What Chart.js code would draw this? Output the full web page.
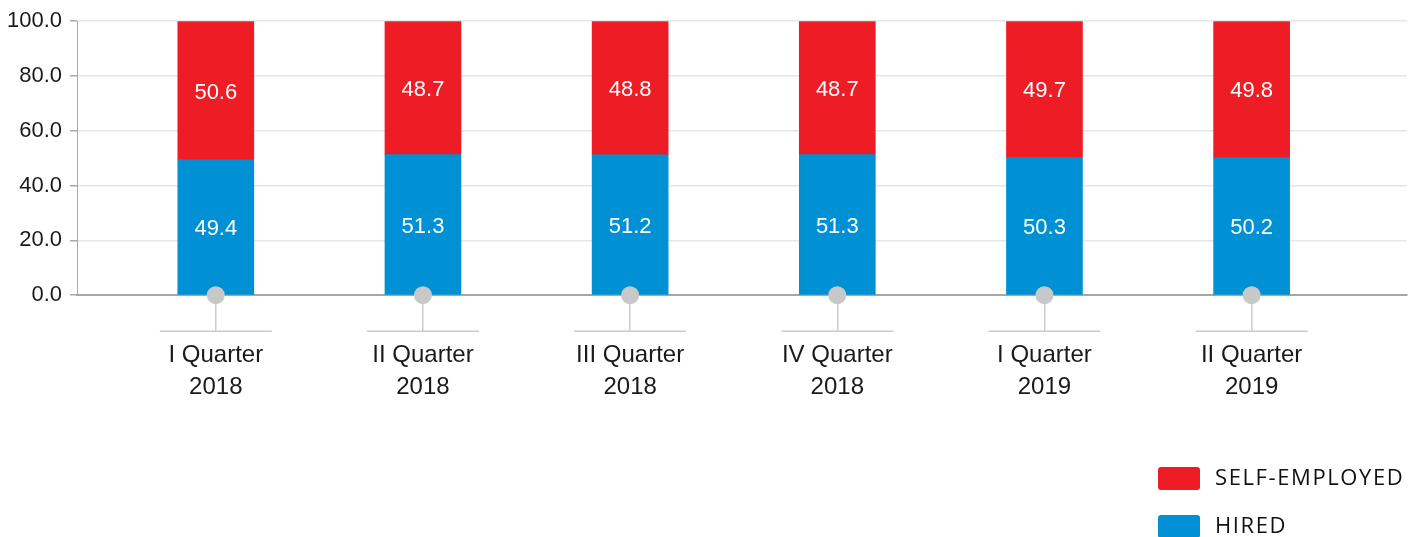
<!DOCTYPE html>
<html>
<head>
<meta charset="utf-8">
<script src="https://cdn.jsdelivr.net/npm/chart.js@4/dist/chart.umd.min.js"></script>
<style>
  html, body { margin: 0; padding: 0; background: #fff; }
  #wrap { width: 1416px; height: 537px; position: relative; }
</style>
</head>
<body>
<div id="wrap"><canvas id="employmentChart"></canvas></div>
<script>
const categories = ["I Quarter 2018", "II Quarter 2018", "III Quarter 2018", "IV Quarter 2018", "I Quarter 2019", "II Quarter 2019"];
const hired = [49.4, 51.3, 51.2, 51.3, 50.3, 50.2];
const selfEmployed = [50.6, 48.7, 48.8, 48.7, 49.7, 49.8];
const yTicks = [0, 20, 40, 60, 80, 100];

const RED = "#ee1d25";
const BLUE = "#0091d5";
const FONT = "'Liberation Sans', Arial, sans-serif";

// points on the linear x scale, one per category index
const toPoints = (values) => values.map((v, i) => ({ x: i, y: v }));

// white value labels in the middle of each bar segment
const barLabels = {
    id: "barLabels",
    afterDatasetsDraw(chart) {
        const ctx = chart.ctx;
        ctx.save();
        ctx.fillStyle = "#ffffff";
        ctx.font = "22px " + FONT;
        ctx.textAlign = "center";
        ctx.textBaseline = "middle";
        chart.data.datasets.forEach((ds, di) => {
            if (ds.type !== "bar") return;
            chart.getDatasetMeta(di).data.forEach((bar, i) => {
                const mid = (bar.y + bar.base) / 2;
                ctx.fillText(ds.data[i].y.toFixed(1), bar.x, mid + 2);
            });
        });
        ctx.restore();
    }
};

// short horizontal line under each category tick + legend at the bottom right
const decorations = {
    id: "decorations",
    afterDraw(chart) {
        const ctx = chart.ctx;
        const x = chart.scales.x;
        const lineY = chart.chartArea.bottom + 36;
        ctx.save();
        ctx.strokeStyle = "#cccccc";
        ctx.lineWidth = 1.5;
        categories.forEach((c, i) => {
            const px = x.getPixelForValue(i);
            ctx.beginPath();
            ctx.moveTo(px - 56, lineY);
            ctx.lineTo(px + 56, lineY);
            ctx.stroke();
        });

        // legend
        const items = chart.data.datasets.filter(d => d.type === "bar").reverse();
        ctx.font = "22px 'Open Sans', sans-serif";
        ctx.letterSpacing = "1.6px";
        ctx.textAlign = "left";
        ctx.textBaseline = "middle";
        items.forEach((ds, i) => {
            const top = 467 + i * 48;
            ctx.fillStyle = ds.backgroundColor;
            ctx.beginPath();
            ctx.roundRect(1158, top, 42, 23, 3);
            ctx.fill();
            ctx.fillStyle = "#111111";
            ctx.fillText(ds.label, 1215, top + 12);
        });
        ctx.restore();
    }
};

const ctx = document.getElementById("employmentChart").getContext("2d");

new Chart(ctx, {
    data: {
        datasets: [
            {
                type: "bar",
                label: "HIRED",
                data: toPoints(hired),
                backgroundColor: BLUE,
                stack: "share",
                barThickness: 76
            },
            {
                type: "bar",
                label: "SELF-EMPLOYED",
                data: toPoints(selfEmployed),
                backgroundColor: RED,
                stack: "share",
                barThickness: 76
            },
            {
                type: "line",
                label: "marker",
                data: toPoints(hired.map(() => 0)),
                showLine: false,
                pointRadius: 9,
                pointHoverRadius: 9,
                pointBackgroundColor: "#c8c8c8",
                pointBorderWidth: 0,
                clip: false,
                order: -1
            }
        ]
    },
    options: {
        responsive: true,
        maintainAspectRatio: false,
        animation: false,
        layout: {
            padding: { top: 17, right: 6, left: 0, bottom: 126 }
        },
        plugins: {
            legend: { display: false },
            tooltip: { enabled: false }
        },
        scales: {
            x: {
                type: "linear",
                offset: false,
                min: -0.67,
                max: 5.75,
                afterBuildTicks: (scale) => {
                    scale.ticks = categories.map((c, i) => ({ value: i }));
                },
                ticks: {
                    autoSkip: false,
                    maxRotation: 0,
                    padding: 8,
                    color: "#1a1a1a",
                    font: { family: FONT, size: 24, lineHeight: 1.33 },
                    callback: (value) => {
                        const label = categories[value];
                        const cut = label.lastIndexOf(" ");
                        return [label.slice(0, cut), label.slice(cut + 1)];
                    }
                },
                grid: {
                    offset: false,
                    drawOnChartArea: false,
                    tickLength: 36,
                    color: "#cccccc",
                    lineWidth: 1.5
                },
                border: { display: true, color: "#a6a6a6", width: 2 }
            },
            y: {
                stacked: true,
                min: 0,
                max: 100,
                afterBuildTicks: (scale) => {
                    scale.ticks = yTicks.map(v => ({ value: v }));
                },
                afterFit: (scale) => { scale.width = 77; },
                ticks: {
                    padding: 8,
                    color: "#1a1a1a",
                    font: { family: FONT, size: 22 },
                    callback: (value) => value.toFixed(1)
                },
                grid: {
                    color: "#e6e6e6",
                    lineWidth: 1.5,
                    tickLength: 7,
                    tickColor: "#aaaaaa"
                },
                border: { display: true, color: "#aaaaaa", width: 1 }
            }
        }
    },
    plugins: [barLabels, decorations]
});
</script>
</body>
</html>
